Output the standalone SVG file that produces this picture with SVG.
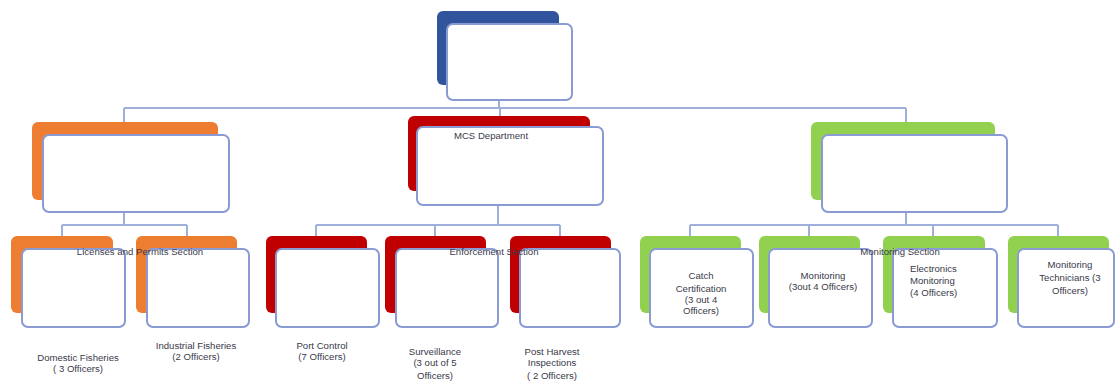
<svg xmlns="http://www.w3.org/2000/svg" width="1116" height="387" viewBox="0 0 1116 387">
<style>
.box{fill:#fff;stroke:#8a9bd4;stroke-width:2}
.blue{fill:#30559c}
.orange{fill:#ed7d31}
.red{fill:#c00000}
.green{fill:#92d050}
.con{fill:none;stroke:#9fafdc;stroke-width:2}
text{font-family:"Liberation Sans",Arial,sans-serif;font-size:9.6px;fill:#3a3a4a;text-anchor:middle}
</style>
<g id="connectors">
<path class="con" d="M499 100V108M124 108H906M124 108V122M500 108V117M906 108V122"/>
<path class="con" d="M124 212V225M62 225H187M62 225V236M187 225V236"/>
<path class="con" d="M498 205V225M316 225H560M316 225V236M435 225V236M560 225V236"/>
<path class="con" d="M906 212V225M690 225H1058M690 225V236M809 225V236M933 225V236M1058 225V236"/>
</g>
<g id="top">
<rect class="blue" x="437" y="11" width="122" height="74" rx="6"/>
<rect class="box" x="447" y="24" width="125" height="76" rx="6"/>
</g>
<g id="licenses">
<rect class="orange" x="32" y="122" width="186" height="78" rx="6"/>
<rect class="box" x="43" y="135" width="186" height="77" rx="6"/>
</g>
<g id="mcs">
<rect class="red" x="408" y="116" width="182" height="75" rx="6"/>
<rect class="box" x="417" y="127" width="186" height="78" rx="6"/>
<text x="491" y="139">MCS Department</text>
</g>
<g id="monitoring">
<rect class="green" x="811" y="122" width="184" height="78" rx="6"/>
<rect class="box" x="822" y="135" width="185" height="77" rx="6"/>
</g>
<g id="domestic">
<rect class="orange" x="11" y="236" width="102" height="77" rx="6"/>
<rect class="box" x="22" y="249" width="103" height="78" rx="6"/>
<text x="78" y="361">Domestic Fisheries</text>
<text x="78" y="372">( 3 Officers)</text>
</g>
<g id="industrial">
<rect class="orange" x="136" y="236" width="101" height="77" rx="6"/>
<rect class="box" x="147" y="249" width="102" height="78" rx="6"/>
<text x="196" y="349">Industrial Fisheries</text>
<text x="196" y="360">(2 Officers)</text>
</g>
<text x="140" y="255">Licenses and Permits Section</text>
<g id="port">
<rect class="red" x="266" y="236" width="101" height="77" rx="6"/>
<rect class="box" x="276" y="249" width="103" height="78" rx="6"/>
<text x="322" y="349">Port Control</text>
<text x="322" y="360">(7 Officers)</text>
</g>
<g id="surveillance">
<rect class="red" x="385" y="236" width="101" height="77" rx="6"/>
<rect class="box" x="396" y="249" width="102" height="78" rx="6"/>
<text x="435" y="355">Surveillance</text>
<text x="435" y="366">(3 out of 5</text>
<text x="435" y="379">Officers)</text>
</g>
<g id="postharvest">
<rect class="red" x="510" y="236" width="101" height="77" rx="6"/>
<rect class="box" x="520" y="249" width="100" height="78" rx="6"/>
<text x="552" y="355">Post Harvest</text>
<text x="552" y="366">Inspections</text>
<text x="552" y="379">( 2 Officers)</text>
</g>
<text x="494" y="255">Enforcement Section</text>
<g id="catch">
<rect class="green" x="640" y="236" width="101" height="77" rx="6"/>
<rect class="box" x="650" y="249" width="103" height="78" rx="6"/>
<text x="701" y="279">Catch</text>
<text x="701" y="292">Certification</text>
<text x="701" y="303">(3 out 4</text>
<text x="701" y="314">Officers)</text>
</g>
<g id="monitoring2">
<rect class="green" x="759" y="236" width="101" height="77" rx="6"/>
<rect class="box" x="769" y="249" width="103" height="78" rx="6"/>
<text x="823" y="279">Monitoring</text>
<text x="823" y="290">(3out 4 Officers)</text>
</g>
<g id="electronics">
<rect class="green" x="883" y="236" width="102" height="77" rx="6"/>
<rect class="box" x="893" y="249" width="104" height="78" rx="6"/>
<text x="910" y="272" style="text-anchor:start">Electronics</text>
<text x="910" y="284" style="text-anchor:start">Monitoring</text>
<text x="910" y="296" style="text-anchor:start">(4 Officers)</text>
</g>
<g id="technicians">
<rect class="green" x="1008" y="236" width="101" height="77" rx="6"/>
<rect class="box" x="1018" y="249" width="96" height="78" rx="6"/>
<text x="1070" y="268">Monitoring</text>
<text x="1070" y="281">Technicians (3</text>
<text x="1070" y="294">Officers)</text>
</g>
<text x="900" y="255">Monitoring Section</text>
</svg>
